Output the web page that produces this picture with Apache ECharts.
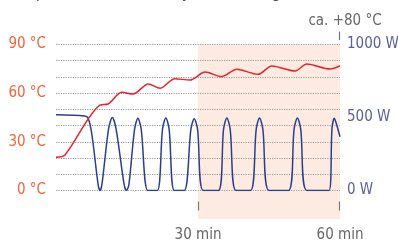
<!DOCTYPE html>
<html><head><meta charset="utf-8">
<script src="https://cdn.jsdelivr.net/npm/echarts@6/dist/echarts.min.js"></script>
<style>html,body{margin:0;padding:0;background:#fff}#c{width:398px;height:243px}</style>
</head><body><div id="c"></div>
<script>
// time in minutes, temperature in °C
const tempData = [[0,20.5],[1.9,21.9],[9.3,52.7],[11,53.3],[13.9,60.5],[16.3,59.5],[19.5,65.7],[22,63],[25.1,68.9],[28.3,68.1],[31.5,73],[35,70.2],[38.2,74.7],[42.7,71.6],[45.6,76.8],[50.5,73.7],[53,78],[57.9,74.9],[60,76.9]];
// time in minutes, power in W
const powerData = [[0,518],[6,510],[6.8,495],[7.6,380],[8.9,40],[9.3,0],[9.7,40],[11.1,420],[11.9,500],[12.7,420],[14.4,40],[14.9,0],[15.4,40],[16.6,420],[17.3,495],[18.0,420],[19.4,0],[21.4,0],[22.5,420],[23.2,497],[23.9,420],[25,0],[27.1,0],[28.5,420],[29.2,492],[29.9,420],[31.1,0],[34.3,0],[35.4,420],[36.1,497],[36.8,420],[38,0],[41.1,0],[42.3,420],[43,497],[43.7,420],[45,0],[49.1,0],[50.3,420],[51,497],[51.7,420],[53,0],[57.7,0],[58.3,420],[58.8,495],[59.3,450],[60,368]];
const tempTicks = [0,30,60,90];
const powerTicks = [0,500,1000];
const timeTicks = [30,60];
const shadeRange = [30,60];
const noteText = 'ca. +80 °C';
const titleText = 'Temperaturkurve mit Hysterese-Regler';

const FONT = '"DejaVu Sans Condensed",sans-serif';
const chart = echarts.init(document.getElementById('c'), null, {renderer:'canvas'});
const option = {
  animation:false,
  title:{text:titleText,left:0,top:-21,textStyle:{fontFamily:FONT,fontSize:17,fontWeight:'normal',color:'#555'}},
  grid:{left:56,right:58,top:44.5,bottom:52.5,outerBoundsMode:'none',containLabel:false},
  xAxis:{type:'value',min:0,max:60,interval:30,
    axisLine:{show:false},
    axisTick:{show:false},
    axisLabel:{customValues:timeTicks,formatter:v=>v+' min',margin:37,fontFamily:FONT,fontSize:15,color:'#666'},
    splitLine:{show:false}},
  yAxis:[
    {type:'value',min:0,max:90,interval:10,position:'left',
      axisLine:{show:false},axisTick:{show:false},
      axisLabel:{customValues:tempTicks,formatter:v=>v+' °C',margin:10,fontFamily:FONT,fontSize:15,color:'#f0643c'},
      splitLine:{show:true,lineStyle:{color:'#9a9a9a',type:[1.2,1.2],width:1.2}}},
    {type:'value',min:0,max:1000,interval:500,position:'right',
      axisLine:{show:false},axisTick:{show:false},
      axisLabel:{customValues:powerTicks,formatter:v=>v+' W',margin:7,fontFamily:FONT,fontSize:15,color:'#5a5f9c'},
      splitLine:{show:false}}
  ],
  series:[
    {type:'line',name:'Leistung',yAxisIndex:1,data:powerData,showSymbol:false,smooth:0.3,
      lineStyle:{color:'#2b3f8f',width:1.5},z:3},
    {type:'line',name:'Temperatur',yAxisIndex:0,data:tempData,showSymbol:false,smooth:0.3,
      lineStyle:{color:'#e8222c',width:1.5},z:4}
  ]
};
chart.setOption(option);
const p0 = chart.convertToPixel({xAxisIndex:0,yAxisIndex:0},[shadeRange[0],90]);
const p1 = chart.convertToPixel({xAxisIndex:0,yAxisIndex:0},[shadeRange[1],0]);
const pTop = chart.convertToPixel({xAxisIndex:0,yAxisIndex:0},[shadeRange[1],90]);
const g = [
  {type:'rect',shape:{x:p0[0],y:p0[1],width:p1[0]-p0[0],height:(p1[1]-p0[1])+28.5},style:{fill:'#fdebe2'},z:-10,silent:true},
  {type:'line',shape:{x1:pTop[0]-0.5,y1:pTop[1]-13,x2:pTop[0]-0.5,y2:pTop[1]-4.5},style:{stroke:'#777',lineWidth:1.2},silent:true},
  {type:'text',x:pTop[0]+5,y:pTop[1]-23,style:{text:noteText,fill:'#666',font:'15px '+FONT,align:'center',verticalAlign:'middle'},silent:true}
];
timeTicks.forEach(t=>{
  const p = chart.convertToPixel({xAxisIndex:0,yAxisIndex:0},[t,0]);
  const x = Math.round(p[0]) + (t===timeTicks[timeTicks.length-1] ? -0.5 : 0.5);
  g.push({type:'line',shape:{x1:x,y1:p[1]+11,x2:x,y2:p[1]+20},style:{stroke:'#777',lineWidth:1.2},silent:true});
});
chart.setOption({graphic:g});
</script></body></html>
